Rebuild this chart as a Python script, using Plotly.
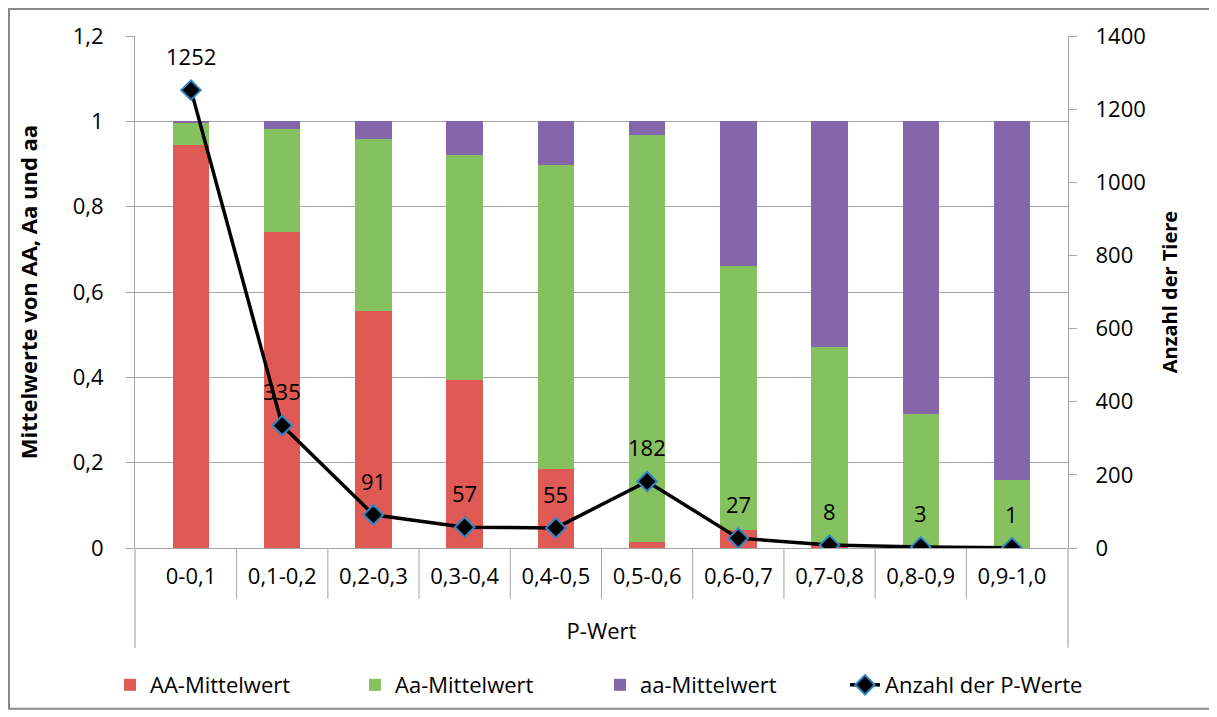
import plotly.graph_objects as go

categories = ["0-0,1", "0,1-0,2", "0,2-0,3", "0,3-0,4", "0,4-0,5",
              "0,5-0,6", "0,6-0,7", "0,7-0,8", "0,8-0,9", "0,9-1,0"]
AA_mean = [0.945, 0.740, 0.555, 0.393, 0.185, 0.014, 0.042, 0.010, 0.004, 0.0]
Aa_mean = [0.053, 0.241, 0.403, 0.527, 0.712, 0.953, 0.618, 0.460, 0.310, 0.159]
aa_mean = [0.002, 0.019, 0.042, 0.080, 0.103, 0.033, 0.340, 0.530, 0.686, 0.841]
count_p = [1252, 335, 91, 57, 55, 182, 27, 8, 3, 1]

FONT = "'Open Sans', 'Noto Sans', sans-serif"
GRID = "#A6A6A6"

# page body has an 8px margin: figure is sized/offset to compensate
OFF = 8
W, H = 1217 - OFF, 717 - OFF
ML, MR, MT, MB = 135 - OFF, 149, 36 - OFF, 168
PW = W - ML - MR
PH = H - MT - MB


def px_x(page_x):
    return (page_x - 135) / PW


def px_y(page_y):
    return (549 - page_y) / PH


fig = go.Figure()
fig.add_trace(go.Bar(x=categories, y=AA_mean, name="AA-Mittelwert",
                     marker=dict(color="#E05A55", line=dict(width=0))))
fig.add_trace(go.Bar(x=categories, y=Aa_mean, name="Aa-Mittelwert",
                     marker=dict(color="#86C160", line=dict(width=0))))
fig.add_trace(go.Bar(x=categories, y=aa_mean, name="aa-Mittelwert",
                     marker=dict(color="#8566AA", line=dict(width=0))))
fig.add_trace(go.Scatter(x=categories, y=count_p, name="Anzahl der P-Werte",
                         yaxis="y2", mode="lines+markers",
                         line=dict(color="black", width=3.5),
                         marker=dict(symbol="diamond", size=15, color="black",
                                     line=dict(color="#2E86C8", width=2))))

for c, v in zip(categories, count_p):
    fig.add_annotation(x=c, y=v, yref="y2", text=str(v), showarrow=False,
                       yshift=34, font=dict(size=22, color="black", family=FONT))

shapes = []
for i in range(len(categories) - 1):
    shapes.append(dict(type="line", xref="x", yref="paper", x0=i + 0.5, x1=i + 0.5,
                       y0=0, y1=px_y(600), line=dict(color=GRID, width=1)))
for xp in [0, 1]:
    shapes.append(dict(type="line", xref="paper", yref="paper", x0=xp, x1=xp,
                       y0=0, y1=px_y(649), line=dict(color=GRID, width=1.2)))
# outer border
shapes.append(dict(type="rect", xref="paper", yref="paper",
                   x0=px_x(9), x1=px_x(1213),
                   y0=px_y(710), y1=px_y(9),
                   line=dict(color="#888888", width=2)))

fig.update_layout(
    width=W, height=H,
    margin=dict(l=ML, r=MR, t=MT, b=MB),
    barmode="stack", bargap=0.6,
    separators=", ",
    paper_bgcolor="white", plot_bgcolor="white",
    font=dict(family=FONT, size=20, color="black"),
    shapes=shapes,
    showlegend=True,
    legend=dict(orientation="h",
                x=px_x(110), xanchor="left", y=px_y(685), yanchor="middle",
                bgcolor="rgba(0,0,0,0)",
                font=dict(size=22), entrywidth=200, entrywidthmode="pixels",
                traceorder="normal"),
    xaxis=dict(showline=False, ticks="", showgrid=False, automargin=False,
               tickfont=dict(size=22), ticklabelstandoff=13,
               title=dict(text="P-Wert", font=dict(size=22), standoff=34)),
    yaxis=dict(range=[0, 1.2], dtick=0.2, showgrid=True, gridcolor=GRID, gridwidth=1,
               showline=True, linecolor=GRID, linewidth=1.2, automargin=False,
               ticks="outside", ticklen=8, tickcolor=GRID,
               zeroline=True, zerolinecolor=GRID, zerolinewidth=1.2,
               tickfont=dict(size=22), ticklabelstandoff=18,
               title=dict(text="<b>Mittelwerte von AA, Aa und aa</b>", font=dict(size=22),
                          standoff=28)),
    yaxis2=dict(range=[0, 1400], dtick=200, overlaying="y", side="right",
                showgrid=False, showline=True, linecolor=GRID, linewidth=1.2,
                ticks="outside", ticklen=8, tickcolor=GRID, zeroline=False,
                automargin=False,
                tickfont=dict(size=22), ticklabelstandoff=14,
                title=dict(text="<b>Anzahl der Tiere</b>", font=dict(size=20),
                           standoff=18)),
)

fig.write_html("out.html")
